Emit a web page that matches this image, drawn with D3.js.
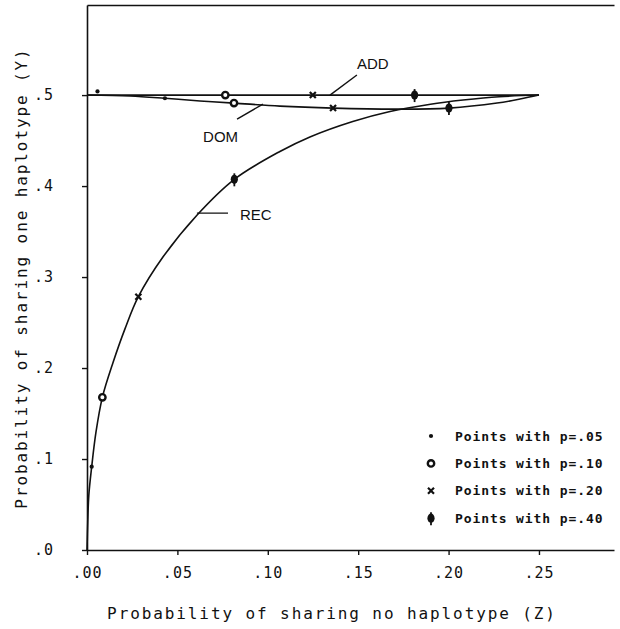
<!DOCTYPE html>
<html>
<head>
<meta charset="utf-8">
<script src="https://cdn.jsdelivr.net/npm/d3@7"></script>
<style>
  body { margin: 0; background: #fff; }
  .mono { font-family: "DejaVu Sans Mono", monospace; fill: #111; }
  .lbl { font-family: "Liberation Sans", Arial, sans-serif; fill: #111; }
</style>
</head>
<body>
<div id="chart"></div>
<script>
'use strict';
// tick values and labels
const zTicks = [0, 0.05, 0.10, 0.15, 0.20, 0.25];
const zTickLabels = ['.00', '.05', '.10', '.15', '.20', '.25'];
const yTicks = [0, 0.1, 0.2, 0.3, 0.4, 0.5];
const yTickLabels = ['.0', '.1', '.2', '.3', '.4', '.5'];

// curves (Z = share none, Y = share one)
const recZ = [0, 0.0004, 0.0010, 0.0026, 0.0050, 0.0085, 0.0144, 0.021, 0.0284, 0.042, 0.0608, 0.0815, 0.1067, 0.1233, 0.147, 0.1676, 0.190, 0.208, 0.228, 0.25];
const recY = [0, 0.030, 0.060, 0.0916, 0.130, 0.1678, 0.206, 0.243, 0.2784, 0.322, 0.368, 0.4074, 0.438, 0.454, 0.471, 0.482, 0.490, 0.4945, 0.4982, 0.50];
const domZ = [0, 0.0238, 0.0431, 0.0625, 0.0813, 0.1067, 0.1361, 0.1715, 0.2002, 0.2268, 0.2395, 0.25];
const domY = [0.50, 0.499, 0.4965, 0.4935, 0.4912, 0.4879, 0.4857, 0.4846, 0.4857, 0.4912, 0.4956, 0.50];
const addZ = [0, 0.125, 0.25];
const addY = [0.50, 0.50, 0.50];

// marked points for p = .05, .10, .20, .40
const pLabels = ['.05', '.10', '.20', '.40'];
const addPointZ = [0.0058, 0.0765, 0.1249, 0.1812];
const addPointY = [0.504, 0.500, 0.500, 0.500];
const domPointZ = [0.0431, 0.0813, 0.1361, 0.2002];
const domPointY = [0.4965, 0.4912, 0.4857, 0.4857];
const recPointZ = [0.0026, 0.0085, 0.0284, 0.0815];
const recPointY = [0.0916, 0.1678, 0.2784, 0.4074];

((d3) => {
    const width = 620;
    const height = 629;
    const left = 87, right = 614, top = 5, bottom = 550;

    const svg = d3.select('#chart')
        .append('svg')
        .attr('width', width)
        .attr('height', height);

    const x = d3.scaleLinear().domain([0, 0.2915]).range([left, right]);
    const y = d3.scaleLinear().domain([0, 0.599]).range([bottom, top]);

//axes
    const xAxis = svg.append('g')
        .attr('transform', 'translate(0,' + bottom + ')')
        .call(d3.axisBottom(x).tickValues(zTicks)
            .tickFormat((d, i) => zTickLabels[i])
            .tickSize(5).tickSizeOuter(0).tickPadding(12));
    const yAxis = svg.append('g')
        .attr('transform', 'translate(' + left + ',0)')
        .call(d3.axisLeft(y).tickValues(yTicks)
            .tickFormat((d, i) => yTickLabels[i])
            .tickSize(5).tickSizeOuter(0).tickPadding(28));
    //top frame line
    const topAxis = svg.append('g')
        .attr('transform', 'translate(0,' + top + ')')
        .call(d3.axisTop(x).tickValues([]).tickSizeOuter(0));

    [xAxis, yAxis, topAxis].forEach((g) => {
        g.select('.domain').attr('stroke', '#111').attr('stroke-width', 1.6);
        g.selectAll('.tick line').attr('stroke', '#111').attr('stroke-width', 1.4);
        g.selectAll('text')
            .attr('class', 'mono')
            .style('font-size', '15px')
            .style('letter-spacing', '1px')
            .attr('fill', '#111');
    });

//curves
    const line = d3.line()
        .x((d) => x(d[0]))
        .y((d) => y(d[1]))
        .curve(d3.curveCatmullRom.alpha(0.5));
    const curves = [
        d3.zip(recZ, recY),
        d3.zip(domZ, domY),
        d3.zip(addZ, addY)
    ];
    svg.selectAll('path.curve')
        .data(curves)
        .enter()
        .append('path')
        .attr('class', 'curve')
        .attr('d', line)
        .attr('fill', 'none')
        .attr('stroke', '#111')
        .attr('stroke-width', 1.6);

//point markers, one shape per p value
    const drawMarker = (g, k) => {
        if (k === 0) {
            g.append('circle').attr('r', 2.1).attr('fill', '#111');
        } else if (k === 1) {
            g.append('circle').attr('r', 3.2).attr('fill', '#fff')
                .attr('stroke', '#111').attr('stroke-width', 2.4);
        } else if (k === 2) {
            g.append('path').attr('d', 'M-3,-3L3,3M-3,3L3,-3')
                .attr('stroke', '#111').attr('stroke-width', 2.2);
        } else {
            g.append('ellipse').attr('rx', 3.6).attr('ry', 4.6).attr('fill', '#111');
            g.append('path').attr('d', 'M0,-6L0,7')
                .attr('stroke', '#111').attr('stroke-width', 1.8);
        }
    };
    const points = [];
    pLabels.forEach((p, k) => {
        points.push({ k: k, z: addPointZ[k], y: addPointY[k] });
        points.push({ k: k, z: domPointZ[k], y: domPointY[k] });
        points.push({ k: k, z: recPointZ[k], y: recPointY[k] });
    });
    svg.selectAll('g.pt')
        .data(points)
        .enter()
        .append('g')
        .attr('class', 'pt')
        .attr('transform', (d) => 'translate(' + x(d.z) + ',' + y(d.y) + ')')
        .each(function (d) { drawMarker(d3.select(this), d.k); });

//curve labels with leader lines
    const notes = [
        { text: 'ADD', tz: 0.1493, ty: 0.5286, from: [0.1493, 0.522], to: [0.1344, 0.50] },
        { text: 'DOM', tz: 0.0642, ty: 0.4484, from: [0.083, 0.4736], to: [0.0973, 0.4901] },
        { text: 'REC', tz: 0.0846, ty: 0.3626, from: [0.0608, 0.3703], to: [0.078, 0.3703] }
    ];
    svg.selectAll('line.lead')
        .data(notes)
        .enter()
        .append('line')
        .attr('x1', (d) => x(d.from[0])).attr('y1', (d) => y(d.from[1]))
        .attr('x2', (d) => x(d.to[0])).attr('y2', (d) => y(d.to[1]))
        .attr('stroke', '#111')
        .attr('stroke-width', 1.4);
    svg.selectAll('text.note')
        .data(notes)
        .enter()
        .append('text')
        .attr('class', 'lbl')
        .attr('x', (d) => x(d.tz))
        .attr('y', (d) => y(d.ty))
        .style('font-size', '15px')
        .text((d) => d.text);

//legend
    const legend = svg.selectAll('.legend')
        .data(pLabels)
        .enter()
        .append('g')
        .attr('class', 'legend')
        .attr('transform', (d, i) => 'translate(431,' + (436 + i * 27.4) + ')');
    legend.each(function (d, i) { drawMarker(d3.select(this), i); });
    legend.append('text')
        .attr('class', 'mono')
        .attr('x', 24)
        .attr('y', 4.5)
        .style('font-size', '13px')
        .style('font-weight', 'bold')
        .style('letter-spacing', '0.9px')
        .text((d) => 'Points with p=' + d);

//axis titles
    svg.append('text')
        .attr('class', 'mono')
        .attr('x', 332)
        .attr('y', 619)
        .attr('text-anchor', 'middle')
        .style('font-size', '16px')
        .style('letter-spacing', '1.9px')
        .text('Probability of sharing no haplotype (Z)');
    svg.append('text')
        .attr('class', 'mono')
        .attr('transform', 'translate(27,278) rotate(-90)')
        .attr('text-anchor', 'middle')
        .style('font-size', '16px')
        .style('letter-spacing', '1.9px')
        .text('Probability of sharing one haplotype (Y)');
})(window.d3);
</script>
</body>
</html>
